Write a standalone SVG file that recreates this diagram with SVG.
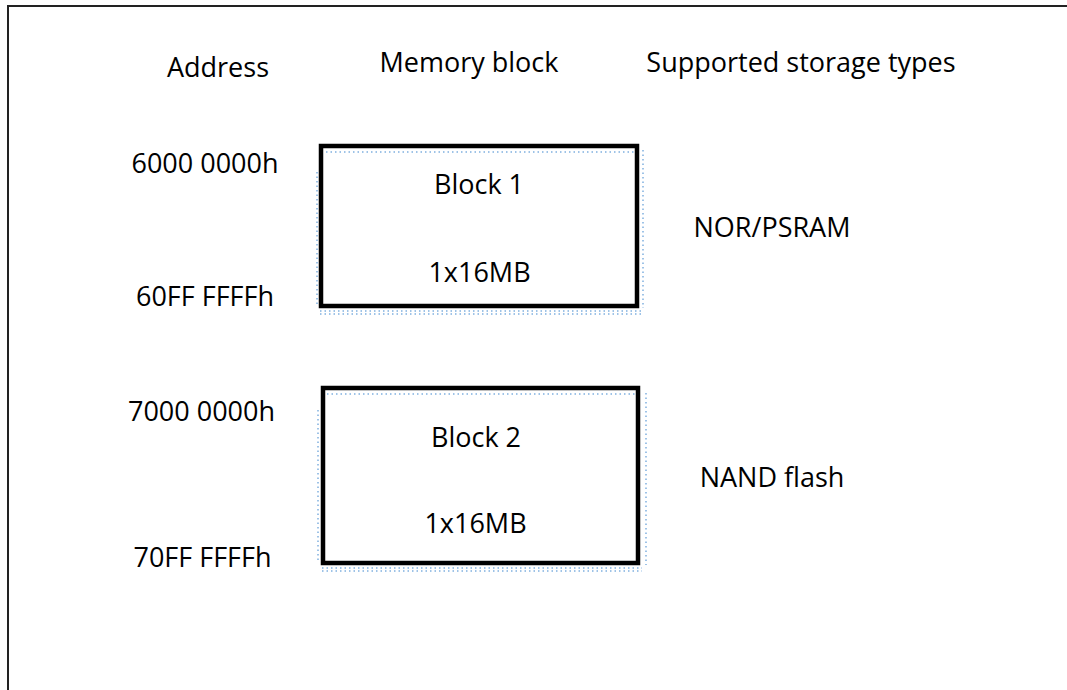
<svg xmlns="http://www.w3.org/2000/svg" width="1067" height="690" viewBox="0 0 1067 690">
<style>
text{font-family:"Open Sans","Noto Sans","Liberation Sans",sans-serif;font-size:27px;fill:#000;text-anchor:middle}
.blk{fill:#fff;stroke:#000;stroke-width:4.5}
.dots{fill:none;stroke:#7fb0e0;stroke-width:1.5;stroke-dasharray:1.5 3}
.frame{fill:none;stroke:#222;stroke-width:2}
</style>
<rect width="1067" height="690" fill="#fff"/>
<path class="frame" d="M8,690 V6 H1067"/>
<g id="headers">
<text x="218" y="77">Address</text>
<text x="469" y="72">Memory block</text>
<text x="801" y="72">Supported storage types</text>
</g>
<g id="addresses">
<text x="205" y="173">6000 0000h</text>
<text x="205" y="306">60FF FFFFh</text>
<text x="201.5" y="421">7000 0000h</text>
<text x="202.5" y="567">70FF FFFFh</text>
</g>
<g id="block1">
<rect class="blk" x="321" y="146" width="316" height="160"/>
<path class="dots" d="M326,152 H636 M317,172 V306 M643,150 V308 M320,311 H643 M320,314 H643"/>
<text x="479" y="194">Block 1</text>
<text x="479.5" y="282">1x16MB</text>
</g>
<g id="block2">
<rect class="blk" x="323" y="388" width="315" height="175"/>
<path class="dots" d="M327,394 H635 M318,410 V560 M646,393 V565 M322,568 H642 M322,571 H642"/>
<text x="476" y="447">Block 2</text>
<text x="475.5" y="533">1x16MB</text>
</g>
<g id="storage">
<text x="772" y="237">NOR/PSRAM</text>
<text x="772" y="487">NAND flash</text>
</g>
<g id="connectors"/>
</svg>
